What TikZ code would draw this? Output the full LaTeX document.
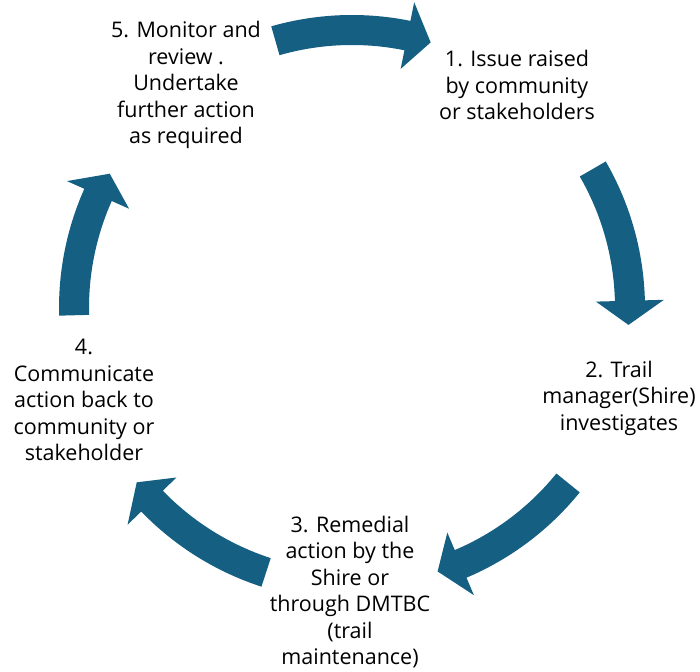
\documentclass[tikz,border=0pt]{standalone}
\usepackage{fontspec}
\setmainfont{Open Sans}
\definecolor{cycleblue}{HTML}{156082}
\tikzset{
  steptext/.style={align=center,inner sep=0pt,font=\fontsize{21.5}{26.5}\selectfont},
  cyclearrow/.style={fill=cycleblue,draw=none}
}
% curved block arrow round the centre: #1 tail angle, #2 tip angle
\newcommand{\cyclearrow}[2]{%
  \pgfmathsetmacro{\headang}{#2+5}
  \fill[cyclearrow] (#1:293) arc[start angle=#1,end angle=\headang,radius=293]
    -- (\headang:312) -- (#2:277) -- (\headang:244) -- (\headang:263)
    arc[start angle=\headang,end angle=#1,radius=263] -- cycle;
}
\begin{document}
\begin{tikzpicture}[x=1pt,y=1pt]
\useasboundingbox (0,0) rectangle (700,671);
\node[steptext] (step5) at (186,586) {5. Monitor and\\review .\\Undertake\\further action\\as required};
\node[steptext] (step1) at (517,586) {1. Issue raised\\by community\\or stakeholders};
\node[steptext] (step2) at (619,273) {2. Trail\\manager(Shire)\\investigates};
\node[steptext] (step3) at (350,79) {3. Remedial\\action by the\\Shire or\\through DMTBC\\(trail\\maintenance)};
\node[steptext] (step4) at (84,271) {4.\\Communicate\\action back to\\community or\\stakeholder};
\begin{scope}[shift={(352,363)}]
\foreach \a/\b in {106/73.5, 30/-3.5, -39/-72, -108/-141, 181.5/151}
  {\cyclearrow{\a}{\b}}
\end{scope}
\end{tikzpicture}
\end{document}
